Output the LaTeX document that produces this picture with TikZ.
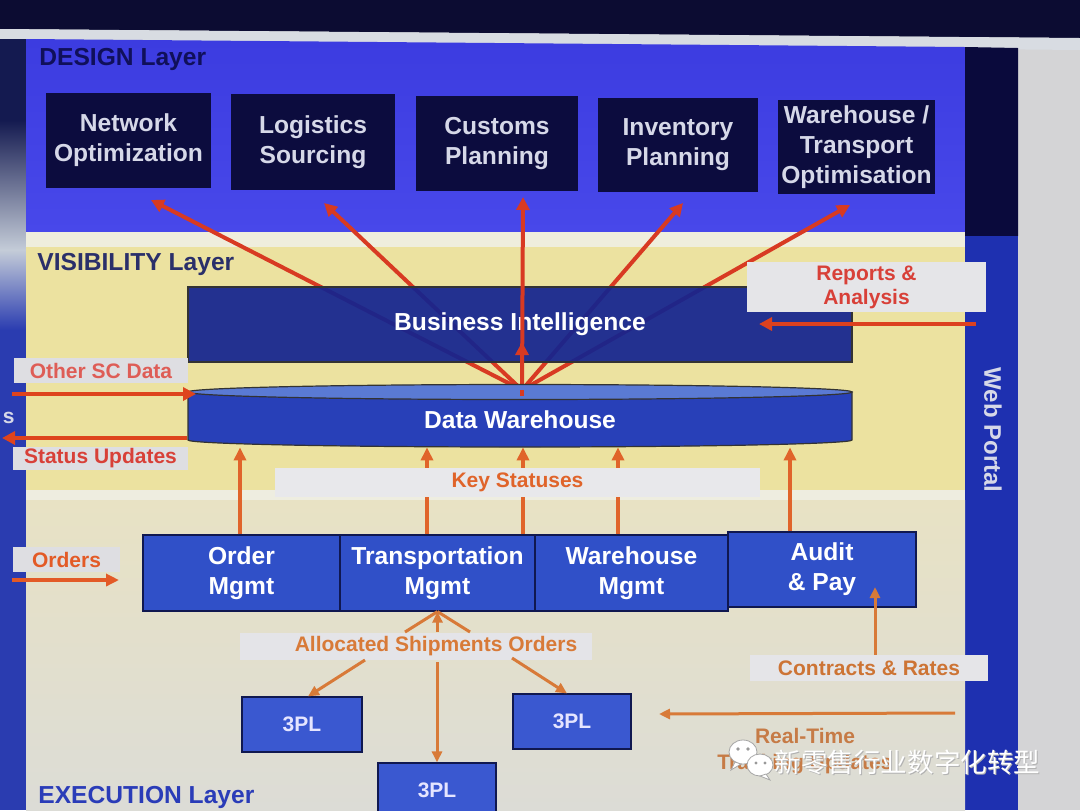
\documentclass[tikz,border=0pt]{standalone}
\usepackage{fontspec}
\setmainfont{Liberation Sans}
\newfontfamily\cjk{Noto Sans CJK SC}
\usetikzlibrary{arrows.meta}
\definecolor{bezel}{HTML}{0C0C32}
\definecolor{stripc}{HTML}{D8DCE2}
\definecolor{rgray}{HTML}{D4D4D6}
\definecolor{designbg}{HTML}{3C3CE0}
\definecolor{designbg2}{HTML}{4848EA}
\definecolor{dnavy}{HTML}{0C0C3E}
\definecolor{boxtxt}{HTML}{D6D8E8}
\definecolor{portaldark}{HTML}{0A0A3C}
\definecolor{portalblue}{HTML}{1E30B0}
\definecolor{whitestrip}{HTML}{EFEEDD}
\definecolor{yellowbg}{HTML}{ECE2A0}
\definecolor{bandc}{HTML}{EEEDE0}
\definecolor{exectop}{HTML}{E8E2C4}
\definecolor{execbot}{HTML}{DCDCD6}
\definecolor{bic}{HTML}{14248F}
\definecolor{dwbody}{HTML}{2840B8}
\definecolor{dwtop}{HTML}{5A7AD4}
\definecolor{eblue}{HTML}{3050C8}
\definecolor{eborder}{HTML}{101850}
\definecolor{plblue}{HTML}{3A58D0}
\definecolor{lblbg}{HTML}{DEDEE2}
\definecolor{redc}{HTML}{D83A22}
\definecolor{redtxt}{HTML}{D84038}
\definecolor{orc}{HTML}{E0642A}
\definecolor{brc}{HTML}{D87A38}
\definecolor{titlec}{HTML}{10105A}
\definecolor{vistitle}{HTML}{2A2F6A}
\definecolor{exectitle}{HTML}{2A3CB8}
\definecolor{leftnavy}{HTML}{141A50}
\definecolor{glare}{HTML}{C4CCD8}
\definecolor{leftblue}{HTML}{2A3CB0}
\tikzset{
  dbox/.style={fill=dnavy, text=boxtxt, inner sep=0pt, align=center,
    font=\bfseries\fontsize{12.3}{15}\selectfont},
  ebox/.style={fill=eblue, draw=eborder, line width=0.6pt, text=white, inner sep=0pt,
    align=center, font=\bfseries\fontsize{12.3}{15}\selectfont},
  plbox/.style={fill=plblue, draw=eborder, line width=0.6pt, text=white!90!blue, inner sep=0pt,
    font=\bfseries\fontsize{10.5}{12}\selectfont},
  lbl/.style={fill=lblbg, inner sep=0pt, align=center, font=\bfseries\fontsize{10.5}{12}\selectfont},
  ttl/.style={anchor=west, inner sep=0pt, font=\bfseries\fontsize{12.3}{15}\selectfont},
  redarr/.style={draw=redc, line width=2pt, -{Triangle[length=6.5pt,width=6.5pt]}},
  orarr/.style={draw=orc, line width=2pt, -{Triangle[length=6.5pt,width=6pt]}},
  brarr/.style={draw=brc, line width=1.5pt, -{Triangle[length=5.5pt,width=5pt]}},
  brline/.style={draw=brc, line width=1.5pt},
}
\begin{document}
\begin{tikzpicture}[x=0.5pt,y=-0.5pt]
\useasboundingbox (0,0) rectangle (1080,810);
% ---------- backgrounds ----------
\fill[rgray] (0,0) rectangle (1080,810);
\fill[bezel] (0,0) -- (1080,0) -- (1080,38) -- (0,29) -- cycle;
\fill[stripc] (0,29) -- (1080,38) -- (1080,50) -- (0,40) -- cycle;
\shade[top color=leftnavy, bottom color=leftnavy] (0,39) rectangle (26,120);
\shade[top color=leftnavy, bottom color=glare] (0,120) rectangle (26,250);
\shade[top color=glare, bottom color=leftblue] (0,250) rectangle (26,330);
\fill[leftblue] (0,330) rectangle (26,810);
\shade[top color=designbg, bottom color=designbg2] (26,39) -- (965,47) -- (965,233) -- (26,232) -- cycle;
\fill[portaldark] (965,47) -- (1018,48) -- (1018,236) -- (965,236) -- cycle;
\fill[portalblue] (965,236) rectangle (1018,810);
\fill[whitestrip] (26,232) rectangle (965,247);
\fill[yellowbg] (26,247) rectangle (965,490);
\fill[bandc] (26,490) rectangle (965,500);
\shade[top color=exectop, bottom color=execbot] (26,500) rectangle (965,810);
% ---------- layer titles ----------
\node[ttl, text=titlec] (tdes) at (39,59) {DESIGN Layer};
\node[ttl, text=vistitle] (tvis) at (37,264) {VISIBILITY Layer};
\node[ttl, text=exectitle] (texe) at (38,797) {EXECUTION Layer};
\node[inner sep=0pt, rotate=-90, text=boxtxt, font=\bfseries\fontsize{12}{14}\selectfont] (wp) at (993,430) {Web Portal};
\node[anchor=east, inner sep=0pt, text=boxtxt, font=\bfseries\fontsize{10.5}{12}\selectfont] (ss) at (15,418) {s};
% ---------- design boxes ----------
\node[dbox, minimum width=82.5pt, minimum height=47.5pt] (net) at (128.5,140.5) {Network\\Optimization};
\node[dbox, minimum width=82pt, minimum height=48pt] (log) at (313,142) {Logistics\\Sourcing};
\node[dbox, minimum width=81pt, minimum height=47.5pt] (cus) at (497,143.5) {Customs\\Planning};
\node[dbox, minimum width=80pt, minimum height=47pt] (inv) at (678,145) {Inventory\\Planning};
\node[dbox, minimum width=78.5pt, minimum height=47pt] (wto) at (856.5,147) {Warehouse /\\Transport\\Optimisation};
% ---------- fan arrows ----------
\coordinate (hub) at (522,390);
\coordinate (t1) at (151,200);
\coordinate (t2) at (324,203);
\coordinate (t3) at (523,197);
\coordinate (t4) at (683,203);
\coordinate (t5) at (850,205);
\coordinate (tbi) at (522,342);
\draw[redarr] (hub) -- (t1);
\draw[redarr] (hub) -- (t2);
\draw[redarr] (hub) -- (t4);
\draw[redarr] (hub) -- (t5);
% ---------- business intelligence ----------
\node[fill=bic, fill opacity=0.93, text opacity=1, draw=black!80, line width=0.6pt, text=white,
  inner sep=0pt, minimum width=332pt, minimum height=37.5pt,
  font=\bfseries\fontsize{12.3}{15}\selectfont] (bi) at (520,324.5) {Business Intelligence};
\draw[redarr] (hub) -- (t3);
\draw[redarr] (hub) -- (tbi);
% ---------- data warehouse ----------
\draw[fill=dwbody, draw=black!80, line width=0.6pt] (188,392) -- (188,440)
  arc[start angle=180, end angle=360, x radius=166pt, y radius=3.5pt] -- (852,392) -- cycle;
\draw[fill=dwtop, draw=black!80, line width=0.6pt] (520,392) ellipse [x radius=166pt, y radius=3.75pt];
\draw[redc, line width=2pt] (hub) -- (522,396);
\node[inner sep=0pt, minimum width=332pt, minimum height=27.5pt, text=white,
  font=\bfseries\fontsize{12.3}{15}\selectfont] (dw) at (520,419.5) {Data Warehouse};
% ---------- reports & analysis ----------
\node[lbl, fill=lblbg!80!white, text=redtxt, minimum width=119.5pt, minimum height=25pt] (rep) at (866.5,287) {Reports \&\\Analysis};
\coordinate (rs) at (976,324);
\coordinate (re) at (759,324);
\draw[redarr, draw=redc!90!orange] (rs) -- (re);
% ---------- other SC data / status updates ----------
\node[lbl, text=redtxt!85!white, minimum width=87pt, minimum height=12.5pt] (osc) at (101,370.5) {Other SC Data};
\node[lbl, text=redtxt, minimum width=87.5pt, minimum height=11.5pt] (stu) at (100.5,458.5) {Status Updates};
\coordinate (os) at (12,394);
\coordinate (oe) at (196,394);
\coordinate (ss1) at (187,438);
\coordinate (se) at (2,438);
\draw[redarr, draw=redc!85!orange] (os) -- (oe);
\draw[redarr, draw=redc!85!orange] (ss1) -- (se);
% ---------- execution boxes ----------
\node[ebox, minimum width=98.5pt, minimum height=38pt] (ord) at (241.5,573) {Order\\Mgmt};
\node[ebox, minimum width=97.5pt, minimum height=38pt] (trn) at (437.5,573) {Transportation\\Mgmt};
\node[ebox, minimum width=96.5pt, minimum height=38pt] (whm) at (631.5,573) {Warehouse\\Mgmt};
\node[ebox, minimum width=94pt, minimum height=37.5pt] (aud) at (822,569.5) {Audit\\\& Pay};
% ---------- key statuses ----------
\draw[orarr] ([xshift=-0.75pt]ord.north) -- ([xshift=-0.75pt]ord.north |- dw.south);
\draw[orarr] ([xshift=-5.25pt]trn.north) -- ([xshift=-5.25pt]trn.north |- dw.south);
\draw[orarr] ([xshift=42.75pt]trn.north) -- ([xshift=42.75pt]trn.north |- dw.south);
\draw[orarr] ([xshift=-6.75pt]whm.north) -- ([xshift=-6.75pt]whm.north |- dw.south);
\draw[orarr] ([xshift=-16pt]aud.north) -- ([xshift=-16pt]aud.north |- dw.south);
\node[lbl, fill=lblbg!70!white, text=orc, minimum width=242.5pt, minimum height=14.5pt] (key) at (517.5,482.5) {Key Statuses};
% ---------- orders ----------
\node[lbl, text=orc!90!red, minimum width=53.5pt, minimum height=12.5pt] (orders) at (66.5,559.5) {Orders};
\coordinate (ors) at (12,580);
\coordinate (ore) at (119,580);
\draw[orarr, draw=orc!90!red] (ors) -- (ore);
% ---------- 3PL ----------
\node[plbox, minimum width=60pt, minimum height=27.5pt] (p1) at (302,724.5) {3PL};
\node[plbox, minimum width=59pt, minimum height=27pt] (p2) at (437,790) {3PL};
\node[plbox, minimum width=59pt, minimum height=27.5pt] (p3) at (572,721.5) {3PL};
% ---------- allocated shipments ----------
\fill[lblbg!80!white] (240,633) rectangle (592,660);
\node[inner sep=0pt, text=brc, font=\bfseries\fontsize{10.5}{12}\selectfont] (alloc) at (436,646.5) {Allocated Shipments Orders};
\coordinate (a1) at (405,632);
\coordinate (a3) at (470,632);
\draw[brline] (a1) -- (trn.south);
\draw[brline] (a3) -- (trn.south);
\draw[brarr] (trn.south |- a1) -- (trn.south);
\coordinate (d1) at (365,660);
\coordinate (d3) at (512,658);
\coordinate (d2) at (437,662);
\draw[brarr] (d1) -- ([xshift=3pt]p1.north);
\draw[brarr] (d2) -- (p2.north);
\draw[brarr] (d3) -- ([xshift=-2.5pt]p3.north);
% ---------- contracts & rates ----------
\node[lbl, fill=lblbg!80!white, text=brc!95!black, minimum width=119pt, minimum height=13pt] (con) at (869,668) {Contracts \& Rates};
\coordinate (cr) at (875,587);
\draw[brarr] ([xshift=3pt]con.north) -- (cr);
% ---------- real-time ----------
\coordinate (rts) at (955,713);
\coordinate (rte) at (659,714);
\draw[brarr] (rts) -- (rte);
\node[inner sep=0pt, align=center, text=brc!80!gray, font=\bfseries\fontsize{10.5}{13}\selectfont] (rt) at (805,751) {Real-Time\\Tracking Updates};
% ---------- watermark ----------
\fill[white, draw=gray!70, line width=0.4pt] (743,752) ellipse [x radius=7pt, y radius=6pt];
\fill[white, draw=gray!70, line width=0.4pt] (735,762) -- (731,770) -- (741,764) -- cycle;
\fill[gray!80] (738,749) circle (0.9pt) (748,749) circle (0.9pt);
\fill[white, draw=gray!70, line width=0.4pt] (760,765) ellipse [x radius=6.5pt, y radius=5.5pt];
\fill[white, draw=gray!70, line width=0.4pt] (766,774) -- (770,780) -- (760,776) -- cycle;
\fill[gray!80] (756,763) circle (0.8pt) (765,763) circle (0.8pt);
\node[anchor=west, inner sep=0pt, text=gray!60, font=\cjk\fontsize{13.3}{16}\selectfont] (wm0) at (775,763.5) {新零售行业数字化转型};
\node[anchor=west, inner sep=0pt, text=white, font=\cjk\fontsize{13.3}{16}\selectfont] (wm) at (774,762) {新零售行业数字化转型};
\end{tikzpicture}
\end{document}
